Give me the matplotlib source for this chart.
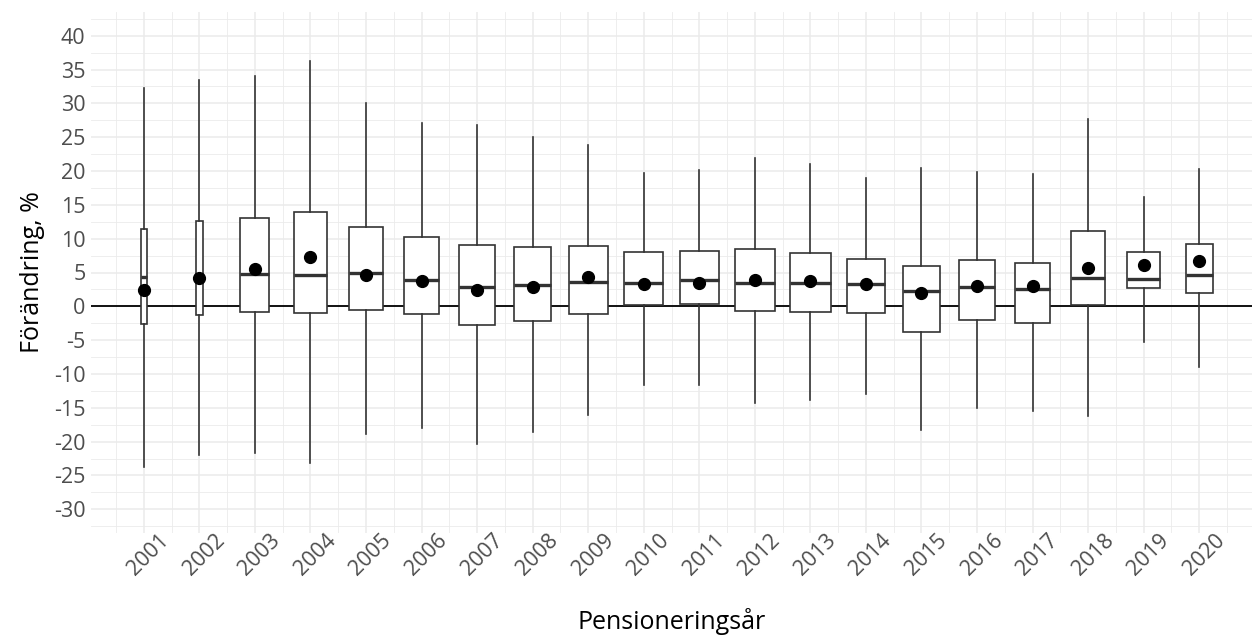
import numpy as np
import matplotlib
matplotlib.use("Agg")
import matplotlib.pyplot as plt
from matplotlib.transforms import ScaledTranslation

plt.rcParams['font.family'] = ['Open Sans', 'DejaVu Sans']
plt.rcParams['axes.unicode_minus'] = False

# Förändring per pensioneringsår (%)
years = list(range(2001, 2021))
whislo = [-23.8, -22.0, -21.7, -23.2, -18.8, -18.0, -20.3, -18.5, -16.0, -11.7,
          -11.7, -14.3, -13.9, -13.0, -18.3, -15.0, -15.5, -16.2, -5.3, -9.0]
q1 = [-2.6, -1.3, -0.8, -1.0, -0.5, -1.1, -2.7, -2.15, -1.1, 0.2,
      0.3, -0.7, -0.8, -1.0, -3.8, -1.95, -2.4, 0.25, 2.7, 1.9]
med = [4.3, 4.2, 4.8, 4.6, 5.0, 3.9, 2.85, 3.1, 3.6, 3.5,
       3.9, 3.4, 3.4, 3.3, 2.2, 2.9, 2.55, 4.2, 4.0, 4.65]
q3 = [11.5, 12.6, 13.1, 14.0, 11.7, 10.25, 9.1, 8.7, 8.9, 8.0,
      8.2, 8.4, 7.9, 7.05, 6.0, 6.9, 6.4, 11.2, 8.1, 9.25]
whishi = [32.2, 33.4, 34.0, 36.2, 30.0, 27.1, 26.8, 25.0, 23.9, 19.75,
          20.1, 21.9, 21.0, 19.0, 20.5, 19.9, 19.5, 27.7, 16.1, 20.25]
mean = [2.35, 4.2, 5.5, 7.35, 4.65, 3.7, 2.45, 2.85, 4.4, 3.3,
        3.5, 3.9, 3.7, 3.3, 2.0, 3.0, 3.0, 5.6, 6.1, 6.65]
# relativ gruppstorlek (styr lådbredden, varwidth)
rel_n = [0.020, 0.030, 0.477, 0.617, 0.655, 0.694, 0.776, 0.819, 0.862, 0.862,
         0.862, 0.907, 1.0, 0.862, 0.776, 0.776, 0.694, 0.655, 0.617, 0.413]

stats = []
for i, y in enumerate(years):
    stats.append(dict(whislo=whislo[i], q1=q1[i], med=med[i], q3=q3[i],
                      whishi=whishi[i], mean=mean[i], fliers=[], label=str(y)))
widths = 0.75 * np.sqrt(np.array(rel_n) / max(rel_n))

fig = plt.figure(figsize=(12.52, 6.37), dpi=100)
ax = fig.add_axes([91/1252, 1 - 533/637, 1 - 91/1252, 521/637])

grid = '#EBEBEB'
ax.axhline(0, color='black', lw=1.3, zorder=1)

lc = '#333333'
ax.bxp(stats, positions=years, widths=widths, showmeans=True, showcaps=False,
       patch_artist=True, manage_ticks=False,
       boxprops=dict(facecolor='white', edgecolor=lc, linewidth=1.2),
       whiskerprops=dict(color=lc, linewidth=1.2),
       medianprops=dict(color=lc, linewidth=2.4),
       meanprops=dict(marker='o', markerfacecolor='black', markeredgecolor='black',
                      markersize=8.5),
       zorder=2)

ax.set_xlim(2000.05, 2020.95)
ax.set_ylim(-33.5, 43.5)
ax.set_xticks(years)
ax.set_xticklabels([str(y) for y in years], rotation=45, ha='center', va='top')
ax.set_xticks(np.arange(2000.5, 2021, 1), minor=True)
ax.set_yticks(np.arange(-30, 41, 5))
ax.set_yticks(np.arange(-32.5, 43, 5), minor=True)

ax.grid(which='major', color=grid, lw=1.1, zorder=0)
ax.grid(which='minor', color=grid, lw=0.6, zorder=0)
ax.set_axisbelow(True)
for s in ax.spines.values():
    s.set_visible(False)
ax.tick_params(which='both', length=0)
ax.tick_params(axis='both', labelsize=15.5, labelcolor='#4D4D4D')
ax.tick_params(axis='x', pad=-2)
ax.tick_params(axis='y', pad=4)

# flytta årtalen en aning åt höger
shift = ScaledTranslation(5/100, 0, fig.dpi_scale_trans)
for lbl in ax.get_xticklabels():
    lbl.set_transform(lbl.get_transform() + shift)

ax.set_xlabel('Pensioneringsår', fontsize=18, labelpad=20)
ax.set_ylabel('Förändring, %', fontsize=18, labelpad=6)

fig.savefig('out.png', dpi=100)
